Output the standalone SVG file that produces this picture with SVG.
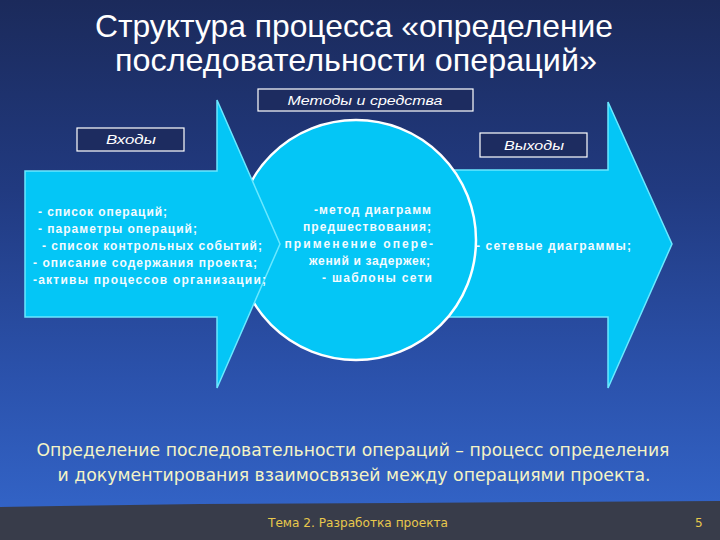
<svg xmlns="http://www.w3.org/2000/svg" width="720" height="540" viewBox="0 0 720 540">
  <defs>
    <linearGradient id="bg" x1="0" y1="0" x2="0" y2="1">
      <stop offset="0" stop-color="#1b2a5b"/>
      <stop offset="0.35" stop-color="#213a80"/>
      <stop offset="0.7" stop-color="#2b52ac"/>
      <stop offset="1" stop-color="#3467cc"/>
    </linearGradient>
    <style>
      .arrow { fill: #04c6f6; stroke: #6ae8ff; stroke-width: 1.5; stroke-linejoin: miter; }
      .circ { fill: #04c6f6; stroke: #ffffff; stroke-width: 2.5; }
      .box { fill: #1d2c60; stroke: #ffffff; stroke-width: 1.2; }
      .boxt { font-family: "Liberation Sans", Arial, sans-serif; font-style: italic; font-size: 13px; fill: #ffffff; text-anchor: middle; }
      .bt { font-family: "Liberation Sans", Arial, sans-serif; font-weight: bold; font-size: 12px; fill: #f4fbff; }
      .title { font-family: "Liberation Sans", Arial, sans-serif; font-size: 32px; fill: #ffffff; text-anchor: middle; }
      .def { font-family: "DejaVu Sans", Verdana, sans-serif; font-size: 18px; fill: #f4f4c6; text-anchor: middle; }
      .foot { font-family: "DejaVu Sans", Verdana, sans-serif; font-size: 12px; fill: #e8c84c; }
    </style>
  </defs>

  <rect x="0" y="0" width="720" height="540" fill="url(#bg)"/>

  <g id="title">
    <text class="title" x="354" y="37" textLength="518" lengthAdjust="spacingAndGlyphs">Структура процесса «определение</text>
    <text class="title" x="356" y="71" textLength="482" lengthAdjust="spacingAndGlyphs">последовательности операций»</text>
  </g>

  <g id="methods-box">
    <rect class="box" x="258" y="89" width="215" height="22"/>
    <text class="boxt" x="365" y="105" textLength="155" lengthAdjust="spacingAndGlyphs">Методы и средства</text>
  </g>
  <g id="inputs-box">
    <rect class="box" x="77" y="128" width="107" height="23"/>
    <text class="boxt" x="131" y="144" textLength="50" lengthAdjust="spacingAndGlyphs">Входы</text>
  </g>
  <g id="outputs-box">
    <rect class="box" x="480" y="133" width="107" height="24"/>
    <text class="boxt" x="534" y="150" textLength="60" lengthAdjust="spacingAndGlyphs">Выходы</text>
  </g>

  <g id="outputs">
    <polygon class="arrow" points="300,170 608,170 608,102 672,244 608,388 608,317 300,317"/>
    <text class="bt" x="476" y="250" textLength="155" lengthAdjust="spacing">- сетевые диаграммы;</text>
  </g>

  <g id="methods">
    <circle class="circ" cx="356" cy="240" r="120"/>
    <text class="bt" text-anchor="end" x="431" y="214" textLength="117" lengthAdjust="spacing">-метод диаграмм</text>
    <text class="bt" text-anchor="end" x="431" y="231" textLength="128" lengthAdjust="spacing">предшествования;</text>
    <text class="bt" text-anchor="end" x="433" y="248" textLength="160" lengthAdjust="spacing">- применение опере-</text>
    <text class="bt" text-anchor="end" x="430" y="265" textLength="121" lengthAdjust="spacing">жений и задержек;</text>
    <text class="bt" text-anchor="end" x="432" y="282" textLength="110" lengthAdjust="spacing">- шаблоны сети</text>
  </g>

  <g id="inputs">
    <polygon class="arrow" points="25,171 217,171 217,100 280,244 217,388 217,317 25,317"/>
    <text class="bt" x="38" y="216" textLength="129" lengthAdjust="spacing">- список операций;</text>
    <text class="bt" x="38" y="233" textLength="159" lengthAdjust="spacing">- параметры операций;</text>
    <text class="bt" x="42" y="250" textLength="220" lengthAdjust="spacing">- список контрольных событий;</text>
    <text class="bt" x="33" y="267" textLength="224" lengthAdjust="spacing">- описание содержания проекта;</text>
    <text class="bt" x="33" y="284" textLength="233" lengthAdjust="spacing">-активы процессов организации;</text>
  </g>

  <g id="definition">
    <text class="def" x="353" y="456" textLength="633" lengthAdjust="spacingAndGlyphs">Определение последовательности операций – процесс определения</text>
    <text class="def" x="354" y="481" textLength="593" lengthAdjust="spacingAndGlyphs">и документирования взаимосвязей между операциями проекта.</text>
  </g>

  <g id="footer">
    <polygon points="0,507 60,506 200,504 400,503 720,501 720,540 0,540" fill="#383c4a"/>
    <text class="foot" x="268" y="527" textLength="180" lengthAdjust="spacingAndGlyphs">Тема 2. Разработка проекта</text>
    <text class="foot" x="695" y="527" fill="#f0e4b0">5</text>
  </g>
</svg>
